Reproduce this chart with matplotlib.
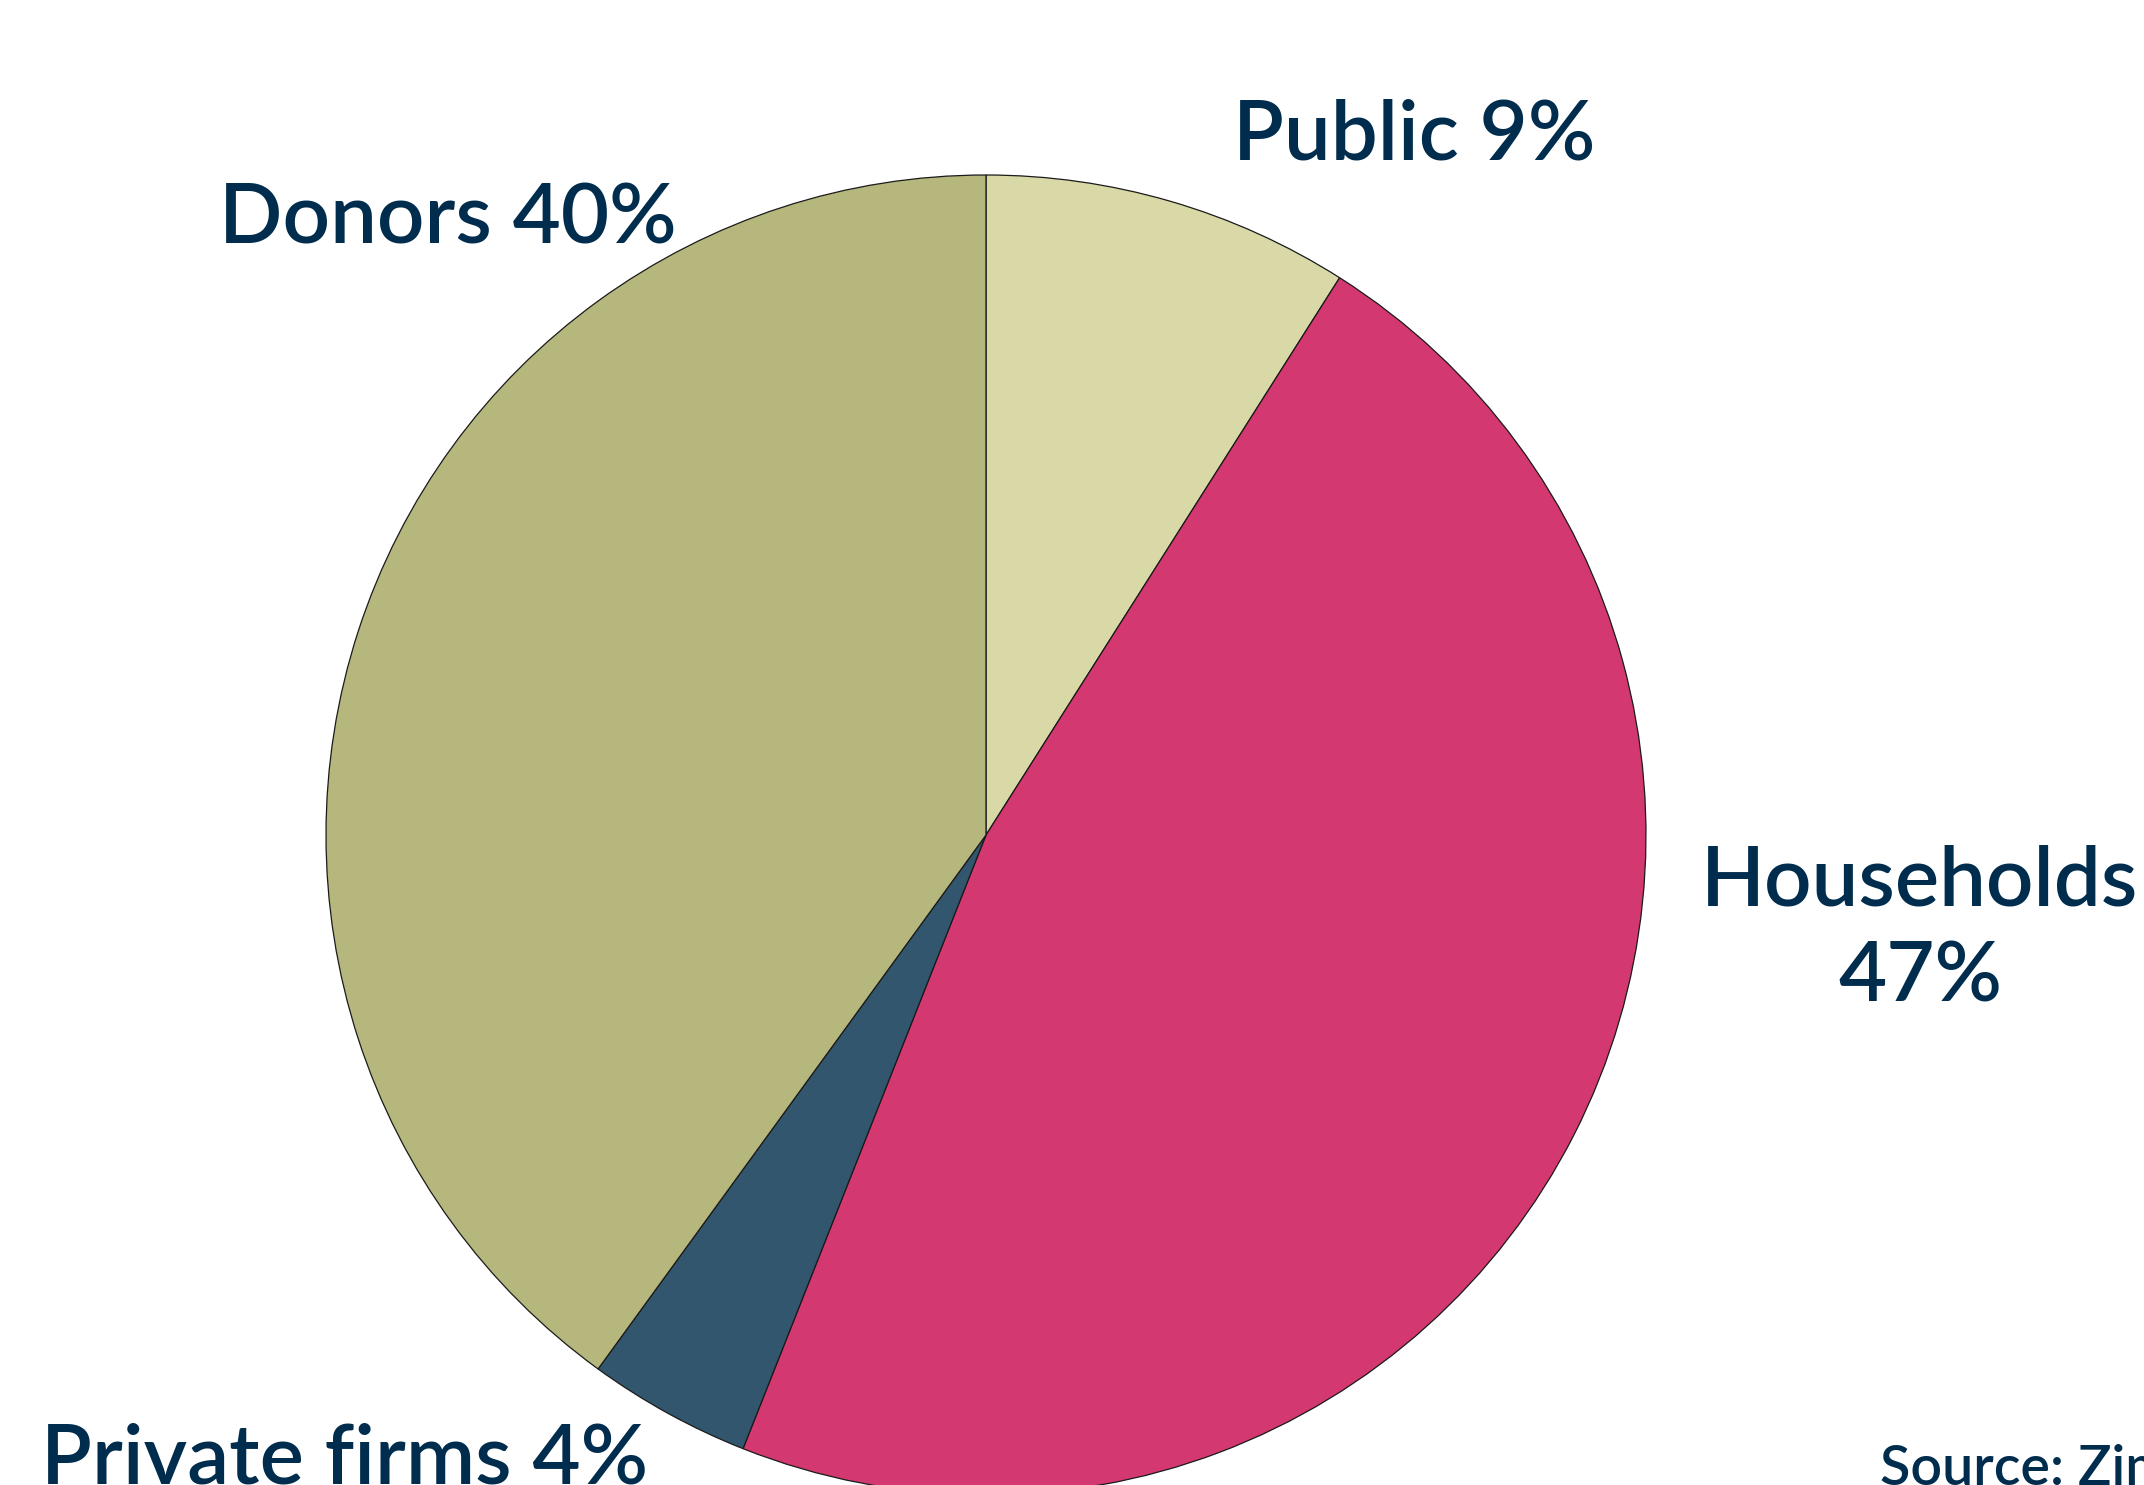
import matplotlib
matplotlib.use("Agg")
import matplotlib.pyplot as plt

# data
labels = ["Public", "Households", "Private firms", "Donors"]
shares = [9, 47, 4, 40]
colors = ["#D9D8A7", "#D33870", "#33566F", "#B5B77D"]
label_text = ["Public 9%", "Households\n47%", "Private firms 4%", "Donors 40%"]

W, H = 2144, 1485
txt_col = "#002D4E"

fig = plt.figure(figsize=(W / 100, H / 100), dpi=100)
ax = fig.add_axes([0, 0, 1, 1])

# pie in pixel coords, clockwise from 12 o'clock
ax.pie(shares, colors=colors, startangle=90, counterclock=False,
       center=(986, H - 835), radius=660,
       wedgeprops=dict(edgecolor="#1a1a1a", linewidth=0.9))

ax.set_xlim(0, W)
ax.set_ylim(0, H)
ax.set_aspect("equal")
ax.axis("off")

font = dict(family="Lato", fontweight="semibold", color=txt_col, fontsize=60)

# label positions (pixel, from top)
ax.text(1414, H - 159, label_text[0], ha="center", va="baseline", **font)
ax.text(1920, H - 906, "Households", ha="center", va="baseline", **font)
ax.text(1920, H - 1002, "47%", ha="center", va="baseline", **font)
ax.text(41, H - 1483, label_text[2], ha="left", va="baseline", **font)
ax.text(219, H - 243, label_text[3], ha="left", va="baseline", **font)

ax.text(1880, H - 1485, "Source: Zimbabwe", ha="left", va="baseline",
        family="Lato", fontweight="semibold", color=txt_col, fontsize=40)

fig.savefig("out.png", dpi=100)
